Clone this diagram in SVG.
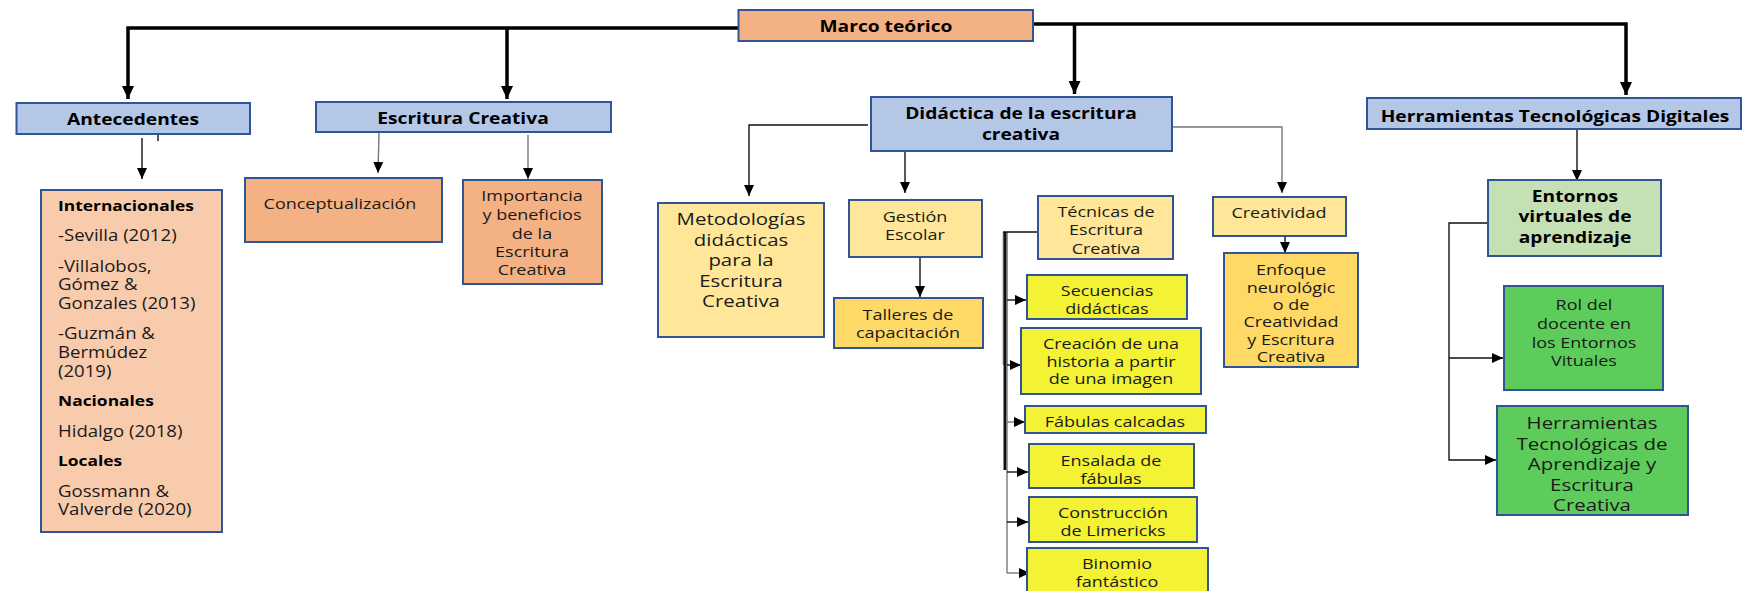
<svg xmlns="http://www.w3.org/2000/svg" width="1748" height="591" viewBox="0 0 1748 591">
<style>
  .box { stroke: #2F5597; stroke-width: 2; }
  .t { font-family: "Open Sans", "Liberation Sans", sans-serif; fill: #1a1a1a; text-anchor: middle; dominant-baseline: central; }
  .b { font-weight: bold; fill: #000; }
  .l { text-anchor: start; }
  .thick { stroke: #000; stroke-width: 3.5; fill: none; }
  .thin { stroke: #111; stroke-width: 1.4; fill: none; }
  .gray { stroke: #777; stroke-width: 1.4; fill: none; }
</style>
<defs>
  <marker id="ab" markerUnits="userSpaceOnUse" markerWidth="14" markerHeight="12" refX="13" refY="6" orient="auto">
    <path d="M0,0 L13,6 L0,12 Z" fill="#000"/>
  </marker>
  <marker id="as" markerUnits="userSpaceOnUse" markerWidth="12" markerHeight="12" refX="11" refY="6" orient="auto">
    <path d="M0,1 L11,6 L0,11 Z" fill="#000"/>
  </marker>
</defs>

<g id="connectors">
  <path class="thick" d="M738,28 H128 V99" marker-end="url(#ab)"/>
  <path class="thick" d="M507,28 V99" marker-end="url(#ab)"/>
  <path class="thick" d="M1033,24 H1626 V95" marker-end="url(#ab)"/>
  <path class="thick" d="M1074.5,24 V94" marker-end="url(#ab)"/>
  <path class="thin" d="M158,123 V141"/>
  <path class="thin" d="M142,138 V179" marker-end="url(#as)"/>
  <path class="gray" d="M379,132 L378,173" marker-end="url(#as)"/>
  <path class="gray" d="M528,135 V179" marker-end="url(#as)"/>
  <path class="thin" d="M868,125 H749 V196" marker-end="url(#as)"/>
  <path class="thin" d="M905,151 V193" marker-end="url(#as)"/>
  <path class="gray" d="M1172,127 H1282 V193" marker-end="url(#as)"/>
  <path class="thin" d="M920,257 V297" marker-end="url(#as)"/>
  <path class="thin" d="M1285,236 V253" marker-end="url(#as)"/>
  <path class="thin" d="M1577,129 V181" marker-end="url(#as)"/>
  <path class="thin" d="M1488,223 H1449 V460 H1496" marker-end="url(#as)"/>
  <path class="thin" d="M1449,358 H1503" marker-end="url(#as)"/>
  <path stroke="#aaa" stroke-width="5" fill="none" d="M1005,232 V365"/>
  <path stroke="#111" stroke-width="3" fill="none" d="M1005,232 V470"/>
  <path class="gray" d="M1007,232 V573"/>
  <path class="thin" d="M1003,232 H1041"/>
  <path class="thin" d="M1007,300 H1026" marker-end="url(#as)"/>
  <path class="thin" d="M1007,365 H1021" marker-end="url(#as)"/>
  <path class="gray" d="M1007,422 H1025" marker-end="url(#as)"/>
  <path class="thin" d="M1007,472 H1028" marker-end="url(#as)"/>
  <path class="thin" d="M1007,522 H1028" marker-end="url(#as)"/>
  <path class="gray" d="M1007,573 H1030" marker-end="url(#as)"/>
</g>

<g id="marco">
  <rect class="box" x="738.5" y="10" width="294.5" height="31" fill="#F4B183"/>
  <g transform="matrix(1.2,0,0,1,-177.2,0)">
    <text class="t b" x="886" y="26" font-size="16">Marco teórico</text>
  </g>
</g>
<g id="antecedentes">
  <rect class="box" x="16.5" y="103" width="233.5" height="31" fill="#B4C7E7"/>
  <g transform="matrix(1.2,0,0,1,-26.6,0)">
    <text class="t b" x="133" y="119" font-size="16">Antecedentes</text>
  </g>
</g>
<g id="escritura">
  <rect class="box" x="316" y="102" width="295" height="30" fill="#B4C7E7"/>
  <g transform="matrix(1.2,0,0,1,-92.6,0)">
    <text class="t b" x="463" y="118" font-size="16">Escritura Creativa</text>
  </g>
</g>
<g id="didactica">
  <rect class="box" x="871" y="97" width="301" height="54" fill="#B4C7E7"/>
  <g transform="matrix(1.2,0,0,1,-204.2,0)">
    <text class="t b" x="1021" y="113" font-size="16">Didáctica de la escritura</text>
    <text class="t b" x="1021" y="134" font-size="16">creativa</text>
  </g>
</g>
<g id="htd">
  <rect class="box" x="1367" y="98" width="374" height="31" fill="#B4C7E7"/>
  <g transform="matrix(1.2,0,0,1,-311,0)">
    <text class="t b" x="1555" y="116" font-size="16">Herramientas Tecnológicas Digitales</text>
  </g>
</g>

<g id="internacionales">
  <rect class="box" x="41" y="190" width="181" height="342" fill="#F8CBAD"/>
  <g transform="matrix(1.2,0,0,1,-11.6,0)">
    <text class="t l b" x="58" y="206" font-size="14.5">Internacionales</text>
    <text class="t l" x="58" y="235" font-size="15.5">-Sevilla (2012)</text>
    <text class="t l" x="58" y="266" font-size="15.5">-Villalobos,</text>
    <text class="t l" x="58" y="284" font-size="15.5">Gómez &amp;</text>
    <text class="t l" x="58" y="303" font-size="15.5">Gonzales (2013)</text>
    <text class="t l" x="58" y="333" font-size="15.5">-Guzmán &amp;</text>
    <text class="t l" x="58" y="352" font-size="15.5">Bermúdez</text>
    <text class="t l" x="58" y="371" font-size="15.5">(2019)</text>
    <text class="t l b" x="58" y="401" font-size="14.5">Nacionales</text>
    <text class="t l" x="58" y="431" font-size="15.5">Hidalgo (2018)</text>
    <text class="t l b" x="58" y="461" font-size="14.5">Locales</text>
    <text class="t l" x="58" y="491" font-size="15.5">Gossmann &amp;</text>
    <text class="t l" x="58" y="509" font-size="15.5">Valverde (2020)</text>
  </g>
</g>

<g id="conceptualizacion">
  <rect class="box" x="245" y="178" width="197" height="64" fill="#F4B183"/>
  <g transform="matrix(1.2,0,0,1,-68,0)">
    <text class="t" x="340" y="203" font-size="15">Conceptualización</text>
  </g>
</g>
<g id="importancia">
  <rect class="box" x="463" y="180" width="139" height="104" fill="#F4B183"/>
  <g transform="matrix(1.2,0,0,1,-106.4,0)">
    <text class="t" x="532" y="195" font-size="15">Importancia</text>
    <text class="t" x="532" y="214" font-size="15">y beneficios</text>
    <text class="t" x="532" y="233" font-size="15">de la</text>
    <text class="t" x="532" y="251" font-size="15">Escritura</text>
    <text class="t" x="532" y="269" font-size="15">Creativa</text>
  </g>
</g>

<g id="metodologias">
  <rect class="box" x="658" y="203" width="166" height="134" fill="#FFE699"/>
  <g transform="matrix(1.2,0,0,1,-148.2,0)">
    <text class="t" x="741" y="218" font-size="17">Metodologías</text>
    <text class="t" x="741" y="239" font-size="17">didácticas</text>
    <text class="t" x="741" y="259" font-size="17">para la</text>
    <text class="t" x="741" y="280" font-size="17">Escritura</text>
    <text class="t" x="741" y="300" font-size="17">Creativa</text>
  </g>
</g>
<g id="gestion">
  <rect class="box" x="849" y="200" width="133" height="57" fill="#FFE699"/>
  <g transform="matrix(1.2,0,0,1,-183,0)">
    <text class="t" x="915" y="216" font-size="15">Gestión</text>
    <text class="t" x="915" y="234" font-size="15">Escolar</text>
  </g>
</g>
<g id="talleres">
  <rect class="box" x="834" y="298" width="149" height="50" fill="#FFD966"/>
  <g transform="matrix(1.2,0,0,1,-181.6,0)">
    <text class="t" x="908" y="314" font-size="15">Talleres de</text>
    <text class="t" x="908" y="332" font-size="15">capacitación</text>
  </g>
</g>
<g id="tecnicas">
  <rect class="box" x="1038" y="196" width="135" height="63" fill="#FFE699"/>
  <g transform="matrix(1.2,0,0,1,-221.2,0)">
    <text class="t" x="1106" y="211" font-size="15">Técnicas de</text>
    <text class="t" x="1106" y="229" font-size="15">Escritura</text>
    <text class="t" x="1106" y="248" font-size="15">Creativa</text>
  </g>
</g>
<g id="secuencias">
  <rect class="box" x="1027" y="275" width="160" height="44" fill="#F3F235"/>
  <g transform="matrix(1.2,0,0,1,-221.4,0)">
    <text class="t" x="1107" y="290" font-size="15">Secuencias</text>
    <text class="t" x="1107" y="308" font-size="15">didácticas</text>
  </g>
</g>
<g id="creacion">
  <rect class="box" x="1021" y="328" width="180" height="66" fill="#F3F235"/>
  <g transform="matrix(1.2,0,0,1,-222.2,0)">
    <text class="t" x="1111" y="343" font-size="15">Creación de una</text>
    <text class="t" x="1111" y="361" font-size="15">historia a partir</text>
    <text class="t" x="1111" y="378" font-size="15">de una imagen</text>
  </g>
</g>
<g id="fabulas">
  <rect class="box" x="1025" y="406" width="181" height="27" fill="#F3F235"/>
  <g transform="matrix(1.2,0,0,1,-223,0)">
    <text class="t" x="1115" y="421" font-size="15">Fábulas calcadas</text>
  </g>
</g>
<g id="ensalada">
  <rect class="box" x="1029" y="444" width="165" height="44" fill="#F3F235"/>
  <g transform="matrix(1.2,0,0,1,-222.2,0)">
    <text class="t" x="1111" y="460" font-size="15">Ensalada de</text>
    <text class="t" x="1111" y="478" font-size="15">fábulas</text>
  </g>
</g>
<g id="construccion">
  <rect class="box" x="1029" y="497" width="168" height="45" fill="#F3F235"/>
  <g transform="matrix(1.2,0,0,1,-222.6,0)">
    <text class="t" x="1113" y="512" font-size="15">Construcción</text>
    <text class="t" x="1113" y="530" font-size="15">de Limericks</text>
  </g>
</g>
<g id="binomio">
  <rect class="box" x="1027" y="548" width="181" height="48" fill="#F3F235"/>
  <g transform="matrix(1.2,0,0,1,-223.4,0)">
    <text class="t" x="1117" y="563" font-size="15">Binomio</text>
    <text class="t" x="1117" y="581" font-size="15">fantástico</text>
  </g>
</g>
<g id="creatividad">
  <rect class="box" x="1213" y="197" width="133" height="39" fill="#FFE699"/>
  <g transform="matrix(1.2,0,0,1,-255.8,0)">
    <text class="t" x="1279" y="212" font-size="15">Creatividad</text>
  </g>
</g>
<g id="enfoque">
  <rect class="box" x="1224" y="253" width="134" height="114" fill="#FFD966"/>
  <g transform="matrix(1.2,0,0,1,-258.2,0)">
    <text class="t" x="1291" y="269" font-size="15">Enfoque</text>
    <text class="t" x="1291" y="287" font-size="15">neurológic</text>
    <text class="t" x="1291" y="304" font-size="15">o de</text>
    <text class="t" x="1291" y="321" font-size="15">Creatividad</text>
    <text class="t" x="1291" y="339" font-size="15">y Escritura</text>
    <text class="t" x="1291" y="356" font-size="15">Creativa</text>
  </g>
</g>

<g id="entornos">
  <rect class="box" x="1488" y="180" width="173" height="76" fill="#C5E0B4"/>
  <g transform="matrix(1.2,0,0,1,-315,0)">
    <text class="t b" x="1575" y="196" font-size="16">Entornos</text>
    <text class="t b" x="1575" y="216" font-size="16">virtuales de</text>
    <text class="t b" x="1575" y="237" font-size="16">aprendizaje</text>
  </g>
</g>
<g id="rol">
  <rect class="box" x="1504" y="286" width="159" height="104" fill="#5ECC5A"/>
  <g transform="matrix(1.2,0,0,1,-316.8,0)">
    <text class="t" x="1584" y="304" font-size="15">Rol del</text>
    <text class="t" x="1584" y="323" font-size="15">docente en</text>
    <text class="t" x="1584" y="342" font-size="15">los Entornos</text>
    <text class="t" x="1584" y="360" font-size="15">Vituales</text>
  </g>
</g>
<g id="htaec">
  <rect class="box" x="1497" y="406" width="191" height="109" fill="#5ECC5A"/>
  <g transform="matrix(1.2,0,0,1,-318.4,0)">
    <text class="t" x="1592" y="422" font-size="17">Herramientas</text>
    <text class="t" x="1592" y="443" font-size="17">Tecnológicas de</text>
    <text class="t" x="1592" y="463" font-size="17">Aprendizaje y</text>
    <text class="t" x="1592" y="484" font-size="17">Escritura</text>
    <text class="t" x="1592" y="504" font-size="17">Creativa</text>
  </g>
</g>
</svg>
